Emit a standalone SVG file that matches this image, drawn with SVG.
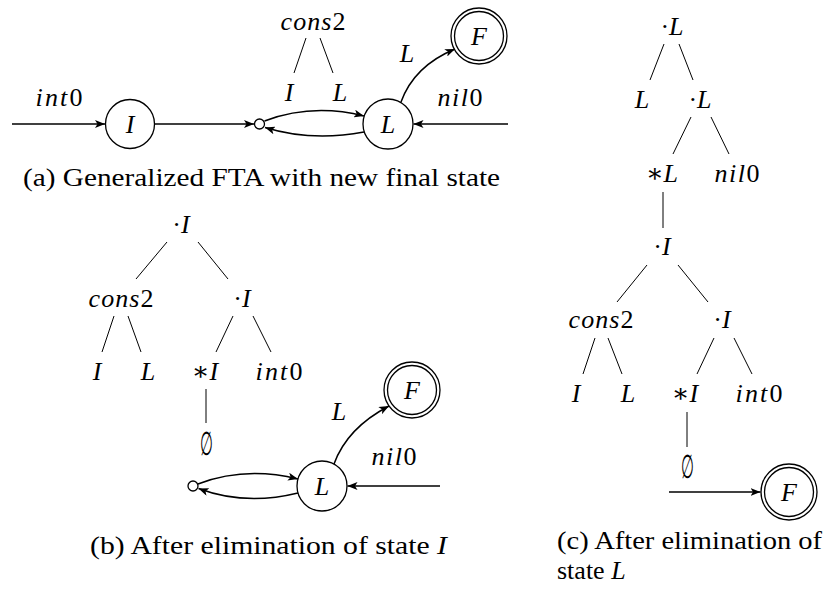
<svg xmlns="http://www.w3.org/2000/svg" width="829" height="596" viewBox="0 0 829 596" font-family="'Liberation Serif', 'DejaVu Serif', serif">
  <style>
    text { font-family: 'Liberation Serif', 'Noto Serif', 'DejaVu Serif', 'Times New Roman', serif; fill: #000; }
    .m { font-style: italic; font-size: 26px; text-anchor: middle; }
    .u { font-style: normal; }
    .es { font-style: normal; font-size: 33px; }
    .cap { font-size: 26px; }
    .st { fill: #fff; stroke: #000; stroke-width: 1.3; }
    .jn { fill: #fff; stroke: #000; stroke-width: 1.3; }
    .e { fill: none; stroke: #000; stroke-width: 1.5; }
    .t { fill: none; stroke: #000; stroke-width: 1; }
  </style>
  <defs>
    <marker id="arr" viewBox="0 0 10 8" refX="10" refY="4" markerWidth="10" markerHeight="8" markerUnits="userSpaceOnUse" orient="auto">
      <path d="M0,0 L10,4 L0,8 L2.5,4 Z" fill="#000"/>
    </marker>
  </defs>

  <!-- connectors: automaton edges and tree branches -->
  <g id="connectors">
    <!-- (a) automaton -->
    <path class="e" d="M12,124 H105" marker-end="url(#arr)"/>
    <path class="e" d="M154.5,124 H254" marker-end="url(#arr)"/>
    <path class="e" d="M264.5,121 Q312,103 364,116" marker-end="url(#arr)"/>
    <path class="e" d="M364,132 Q312,142 265,127.5" marker-end="url(#arr)"/>
    <path class="e" d="M401,102 Q414,66 455,49" marker-end="url(#arr)"/>
    <path class="e" d="M508,124 H413.5" marker-end="url(#arr)"/>
    <!-- (a) cons2 branches -->
    <path class="t" d="M306,38 L294,73 M320,38 L333,73"/>

    <!-- (b) tree -->
    <path class="t" d="M167,242 L136,279 M198,242 L228,279"/>
    <path class="t" d="M114,316 L102,352 M128,316 L141,352"/>
    <path class="t" d="M233,316 L216,352 M253,316 L271,352"/>
    <path class="t" d="M206,389 V423"/>
    <!-- (b) automaton -->
    <path class="e" d="M198,484 Q245,466 298,479" marker-end="url(#arr)"/>
    <path class="e" d="M298,493 Q245,506 198.5,488.5" marker-end="url(#arr)"/>
    <path class="e" d="M334,464 Q347,428 389,406" marker-end="url(#arr)"/>
    <path class="e" d="M440,486 H347.5" marker-end="url(#arr)"/>

    <!-- (c) tree -->
    <path class="t" d="M664,44 L650,80 M679,44 L693,80"/>
    <path class="t" d="M691,117 L673,154 M711,117 L729,154"/>
    <path class="t" d="M663,192 V228"/>
    <path class="t" d="M647,265 L617,302 M678,265 L708,302"/>
    <path class="t" d="M595,338 L583,374 M608,338 L622,374"/>
    <path class="t" d="M714,338 L697,374 M734,338 L752,374"/>
    <path class="t" d="M687,412 V447"/>
    <!-- (c) automaton -->
    <path class="e" d="M669,492 H760.5" marker-end="url(#arr)"/>
  </g>

  <!-- (a) Generalized FTA -->
  <g id="a-int0"><text class="m" x="59" y="106" textLength="47">int<tspan class="u">0</tspan></text></g>
  <g id="a-stateI"><circle class="st" cx="130" cy="124" r="24.5"/><text class="m" x="130" y="133">I</text></g>
  <g id="a-junction"><circle class="jn" cx="259.5" cy="124" r="5"/></g>
  <g id="a-stateL"><circle class="st" cx="388" cy="124" r="25"/><text class="m" x="388" y="133">L</text></g>
  <g id="a-final"><circle class="st" cx="479" cy="36" r="28"/><circle class="st" cx="479" cy="36" r="24.5"/><text class="m" x="479" y="45">F</text></g>
  <g id="a-nil0"><text class="m" x="460" y="106" textLength="45">nil<tspan class="u">0</tspan></text></g>
  <g id="a-labelL"><text class="m" x="407" y="62">L</text></g>
  <g id="a-cons2"><text class="m" x="313" y="30" textLength="65">cons<tspan class="u">2</tspan></text></g>
  <g id="a-argI"><text class="m" x="289" y="101">I</text></g>
  <g id="a-argL"><text class="m" x="340" y="101">L</text></g>
  <text class="cap" x="23" y="186" textLength="477" lengthAdjust="spacingAndGlyphs">(a) Generalized FTA with new final state</text>

  <!-- (b) after eliminating I -->
  <g id="b-dotI"><text class="m" x="181" y="233"><tspan class="u">·</tspan>I</text></g>
  <g id="b-cons2"><text class="m" x="121" y="307" textLength="65">cons<tspan class="u">2</tspan></text></g>
  <g id="b-dotI2"><text class="m" x="242" y="307"><tspan class="u">·</tspan>I</text></g>
  <g id="b-I"><text class="m" x="97" y="380">I</text></g>
  <g id="b-L"><text class="m" x="148" y="380">L</text></g>
  <g id="b-starI"><text class="m" x="205" y="380"><tspan class="u">∗</tspan>I</text></g>
  <g id="b-int0"><text class="m" x="279" y="380" textLength="47">int<tspan class="u">0</tspan></text></g>
  <g id="b-empty"><text class="m es" x="206" y="455" textLength="13" lengthAdjust="spacingAndGlyphs">∅</text></g>
  <g id="b-junction"><circle class="jn" cx="193" cy="486" r="5"/></g>
  <g id="b-stateL"><circle class="st" cx="322" cy="486" r="25"/><text class="m" x="322" y="495">L</text></g>
  <g id="b-final"><circle class="st" cx="412" cy="390" r="28"/><circle class="st" cx="412" cy="390" r="24.5"/><text class="m" x="412" y="399">F</text></g>
  <g id="b-labelL"><text class="m" x="339" y="420">L</text></g>
  <g id="b-nil0"><text class="m" x="394" y="465" textLength="45">nil<tspan class="u">0</tspan></text></g>
  <text class="cap" x="90" y="554" textLength="357" lengthAdjust="spacingAndGlyphs">(b) After elimination of state <tspan font-style="italic">I</tspan></text>

  <!-- (c) after eliminating L -->
  <g id="c-dotL"><text class="m" x="672" y="35"><tspan class="u">·</tspan>L</text></g>
  <g id="c-L"><text class="m" x="642" y="108">L</text></g>
  <g id="c-dotL2"><text class="m" x="700" y="108"><tspan class="u">·</tspan>L</text></g>
  <g id="c-starL"><text class="m" x="662" y="182"><tspan class="u">∗</tspan>L</text></g>
  <g id="c-nil0"><text class="m" x="737" y="182" textLength="45">nil<tspan class="u">0</tspan></text></g>
  <g id="c-dotI"><text class="m" x="662" y="255"><tspan class="u">·</tspan>I</text></g>
  <g id="c-cons2"><text class="m" x="601" y="328" textLength="65">cons<tspan class="u">2</tspan></text></g>
  <g id="c-dotI2"><text class="m" x="722" y="328"><tspan class="u">·</tspan>I</text></g>
  <g id="c-I"><text class="m" x="576" y="402">I</text></g>
  <g id="c-Lleaf"><text class="m" x="628" y="402">L</text></g>
  <g id="c-starI"><text class="m" x="685" y="402"><tspan class="u">∗</tspan>I</text></g>
  <g id="c-int0"><text class="m" x="759" y="402" textLength="47">int<tspan class="u">0</tspan></text></g>
  <g id="c-empty"><text class="m es" x="687" y="478" textLength="13" lengthAdjust="spacingAndGlyphs">∅</text></g>
  <g id="c-final"><circle class="st" cx="789" cy="492" r="28"/><circle class="st" cx="789" cy="492" r="24.5"/><text class="m" x="789" y="501">F</text></g>
  <text class="cap" x="557" y="549" textLength="265" lengthAdjust="spacingAndGlyphs">(c) After elimination of</text>
  <text class="cap" x="557" y="579">state <tspan font-style="italic">L</tspan></text>
</svg>
